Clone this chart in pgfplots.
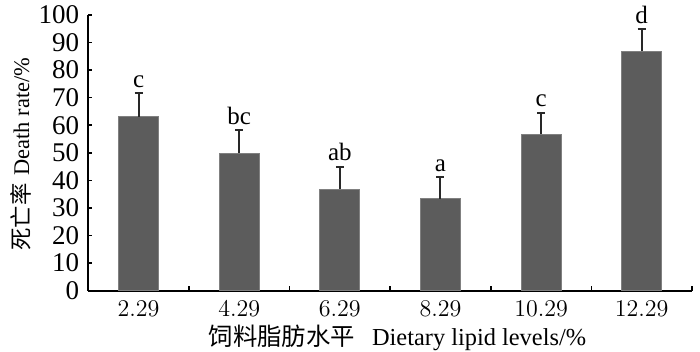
\documentclass[border=0pt]{standalone}
\usepackage{pgfplots}
\pgfplotsset{compat=1.18}
\usepackage{pgfplotstable}
\usepackage{fontspec}
\setmainfont{Liberation Serif}
\newfontfamily\cjk{Noto Sans CJK SC}
\definecolor{barfill}{RGB}{92,92,92}
\definecolor{baredge}{RGB}{128,128,128}
\definecolor{errc}{RGB}{40,40,40}
\pgfplotstableread{
x y err lab
0 63.1 8.5 c
1 49.8 8.5 bc
2 36.8 8.2 ab
3 33.3 8.0 a
4 56.7 7.9 c
5 86.9 7.9 d
}\datatab
\begin{document}
\begin{tikzpicture}
\begin{axis}[
  at={(0,0)}, anchor=south west,
  scale only axis, width=302pt, height=137.85pt,
  xmin=-0.5, xmax=5.5, ymin=0, ymax=100,
  axis x line*=bottom, axis y line*=left,
  axis line style={line width=1pt, -},
  xtick={0,1,2,3,4,5},
  xticklabels={$2.29$,$4.29$,$6.29$,$8.29$,$10.29$,$12.29$},
  minor xtick={0.5,1.5,2.5,3.5,4.5,5.5},
  major x tick style={draw=none},
  minor tick length=2.5pt,
  ytick={0,10,...,100},
  major tick length=2pt,
  tick align=inside,
  tick style={line width=0.8pt, black},
  yticklabel style={/pgf/number format/assume math mode=true, font=\fontsize{13.5}{15}\selectfont, xshift=-1pt},
  xticklabel style={font=\fontsize{12.3}{14}\selectfont, yshift=-1.5pt},
  xlabel={{\cjk 饲料脂肪水平}\hspace{0.7em}Dietary lipid levels/\%},
  ylabel={{\cjk 死亡率}\hspace{0.35em}Death rate/\%},
  xlabel style={at={(axis description cs:0.512,-0.17)}, anchor=center, font=\fontsize{12.2}{14}\selectfont},
  ylabel style={at={(axis description cs:-0.112,0.495)}, anchor=center, font=\fontsize{11.2}{14}\selectfont},
  clip=false,
]
\addplot[ybar, bar width=20pt, fill=barfill, draw=baredge, line width=0.5pt,
  error bars/.cd, y dir=plus, y explicit,
  error bar style={line width=1pt, errc},
  error mark options={rotate=90, mark size=2pt, line width=1pt, errc}]
  table[x=x, y=y, y error=err] {\datatab};
\addplot[draw=none, mark=none,
  nodes near coords, point meta=explicit symbolic,
  every node near coord/.style={anchor=south, inner sep=1pt, yshift=1.5pt, font=\fontsize{12.5}{14}\selectfont}]
  table[x=x, y expr=\thisrow{y}+\thisrow{err}, meta=lab] {\datatab};
\end{axis}
\pgfresetboundingbox
\useasboundingbox (-44.15pt,-30.65pt) rectangle (306pt,145.35pt);
\end{tikzpicture}
\end{document}
